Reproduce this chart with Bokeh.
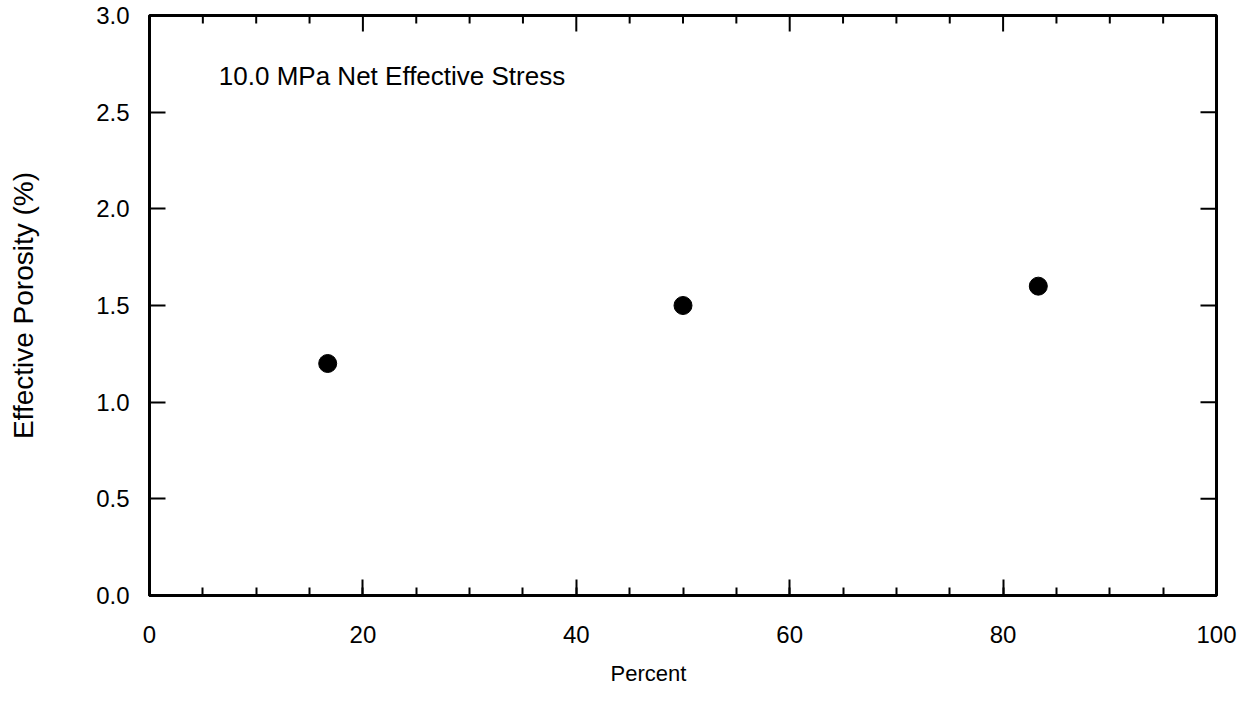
from bokeh.plotting import figure
from bokeh.models import (LinearAxis, SingleIntervalTicker, Range1d, Label,
                          NumeralTickFormatter, Title)
from bokeh.embed import file_html
from bokeh.resources import INLINE

# Effective porosity at 10.0 MPa net effective stress
percent = [16.7, 50.0, 83.3]
porosity = [1.2, 1.5, 1.6]

x_label = "Percent"
y_label = "Effective Porosity (%)"
note = "10.0 MPa Net Effective Stress"

FONT = "Liberation Sans"
X0, X1, Y0, Y1 = 0, 100, 0.0, 3.0
FW, FH = 1067, 580

p = figure(
    width=1255, height=705,
    frame_width=FW, frame_height=FH,
    min_border_left=149, min_border_right=39,
    min_border_top=15, min_border_bottom=110,
    x_range=Range1d(X0, X1), y_range=Range1d(Y0, Y1),
    output_backend="svg", toolbar_location=None,
    x_axis_type=None, y_axis_type=None,
)
p.grid.visible = False
p.background_fill_color = "white"
p.border_fill_color = "white"
p.outline_line_color = "black"
p.outline_line_width = 3


def style(ax, minor):
    ax.axis_line_color = "black"
    ax.axis_line_width = 3
    ax.major_tick_line_color = "black"
    ax.major_tick_line_width = 2
    ax.major_tick_in = 16
    ax.major_tick_out = 0
    ax.minor_tick_line_color = "black" if minor else None
    ax.minor_tick_line_width = 2
    ax.minor_tick_in = 8
    ax.minor_tick_out = 0
    ax.major_label_text_font = FONT
    ax.major_label_text_color = "black"
    ax.major_label_text_font_size = "24px"
    ax.axis_label_text_font = FONT
    ax.axis_label_text_font_style = "normal"
    ax.axis_label_text_color = "black"


xb = LinearAxis(ticker=SingleIntervalTicker(interval=20, num_minor_ticks=4))
style(xb, True)
xb.major_label_standoff = 30
p.add_layout(xb, "below")

yl = LinearAxis(ticker=SingleIntervalTicker(interval=0.5, num_minor_ticks=0),
                formatter=NumeralTickFormatter(format="0.0"),
                axis_label=y_label)
style(yl, False)
yl.major_label_standoff = 20
yl.axis_label_text_font_size = "28px"
yl.axis_label_standoff = 54
p.add_layout(yl, "left")

# x title as a side panel so it can be shifted along the frame
p.add_layout(Title(text=x_label, align="left", offset=461, standoff=26,
                   text_font=FONT, text_font_size="22px",
                   text_font_style="normal", text_color="black"), "below")

# inward ticks along the top and right edges of the frame
top_major = list(range(0, 101, 20))
top_minor = [v for v in range(0, 101, 5) if v % 20]
right_major = [0.5 * i for i in range(1, 6)]

ppx = (X1 - X0) / FW   # data units per pixel, x
ppy = (Y1 - Y0) / FH   # data units per pixel, y

p.segment(x0=top_major, x1=top_major, y0=[Y1] * len(top_major),
          y1=[Y1 - 16 * ppy] * len(top_major), line_color="black", line_width=2)
p.segment(x0=top_minor, x1=top_minor, y0=[Y1] * len(top_minor),
          y1=[Y1 - 8 * ppy] * len(top_minor), line_color="black", line_width=2)
p.segment(x0=[X1] * len(right_major), x1=[X1 - 16 * ppx] * len(right_major),
          y0=right_major, y1=right_major, line_color="black", line_width=2)

p.scatter(percent, porosity, size=18, color="black", marker="circle")

p.add_layout(Label(
    x=6.5, y=2.685, text=note, text_font=FONT, text_font_size="26px",
    text_color="black", text_baseline="middle",
))

open("out.html", "w").write(file_html(p, INLINE))
